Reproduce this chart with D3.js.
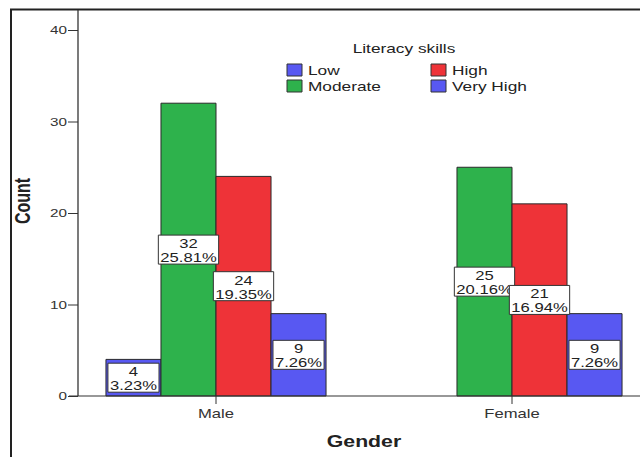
<!DOCTYPE html>
<html><head><meta charset="utf-8">
<script src="https://cdn.jsdelivr.net/npm/d3@7"></script>
<style>
html,body{margin:0;padding:0;background:#fff;overflow:hidden}
svg{display:block}
svg line, svg path, svg rect{vector-effect:non-scaling-stroke}
</style>
</head><body>
<script>
// ---- data ----
const genders = ["Male", "Female"];
const levels = ["Low", "Moderate", "High", "Very High"];
const maleCounts = [4, 32, 24, 9];
const femaleCounts = [null, 25, 21, 9];
const malePercents = ["3.23%", "25.81%", "19.35%", "7.26%"];
const femalePercents = [null, "20.16%", "16.94%", "7.26%"];
const yTicks = [0, 10, 20, 30, 40];
const legendTitle = "Literacy skills";
const xTitle = "Gender";
const yTitle = "Count";

// ---- style ----
const levelColors = ["#5858f2", "#2eb24c", "#ee3338", "#5858f2"];
const W = 640, H = 457, S = 1.33, IW = W / S;
const font = "'Liberation Sans', Arial, Helvetica, sans-serif";

const svg = d3.select("body").append("svg")
  .attr("width", W).attr("height", H)
  .attr("viewBox", `0 0 ${IW} ${H}`)
  .attr("preserveAspectRatio", "none")
  .style("font-family", font);

svg.append("rect").attr("width", IW).attr("height", H).attr("fill", "#fff");

// outer frame (top + left visible)
svg.append("path")
  .attr("d", `M${11 / S},${H + 5} V9.5 H${IW + 5}`)
  .attr("fill", "none").attr("stroke", "#222").attr("stroke-width", 2);

// scales
const y = d3.scaleLinear().domain([0, 40]).range([396, 30]);
const x0 = d3.scaleBand().domain(genders).range([68 / S, 660 / S]);
const x1 = d3.scaleBand().domain(levels).range([0, x0.bandwidth()]).paddingInner(0).paddingOuter(0.69);

const data = [];
genders.forEach((g, gi) => {
  const counts = gi === 0 ? maleCounts : femaleCounts;
  const pcts = gi === 0 ? malePercents : femalePercents;
  levels.forEach((l, li) => {
    if (counts[li] != null) data.push({ g, l, li, v: counts[li], p: pcts[li] });
  });
});

// bars
svg.append("g").selectAll("rect").data(data).join("rect")
  .attr("x", d => x0(d.g) + x1(d.l))
  .attr("y", d => y(d.v))
  .attr("width", x1.bandwidth())
  .attr("height", d => y(0) - y(d.v))
  .attr("fill", d => levelColors[d.li])
  .attr("stroke", "#2a2a2a").attr("stroke-width", 1);

// y axis
const yAxisX = 78 / S;
const yAxis = svg.append("g").attr("transform", `translate(${yAxisX},0)`)
  .call(d3.axisLeft(y).tickValues(yTicks).tickSizeInner(10 / S).tickSizeOuter(0).tickPadding(0.8));
yAxis.select(".domain").remove();
yAxis.selectAll(".tick line").attr("stroke", "#333");
yAxis.selectAll(".tick text").attr("font-size", 11.5).attr("fill", "#333").attr("font-family", font);
svg.append("line").attr("x1", yAxisX).attr("x2", yAxisX).attr("y1", 10).attr("y2", y(0))
  .attr("stroke", "#333").attr("stroke-width", 1.3);

// x axis baseline
svg.append("line").attr("x1", 69 / S).attr("x2", IW + 5).attr("y1", y(0)).attr("y2", y(0))
  .attr("stroke", "#333").attr("stroke-width", 1.2);
const xAxis = svg.append("g").attr("transform", `translate(0,${y(0)})`)
  .call(d3.axisBottom(x0).tickSizeInner(8).tickSizeOuter(0).tickPadding(5.5));
xAxis.select(".domain").remove();
xAxis.selectAll(".tick line").attr("stroke", "#333");
xAxis.selectAll(".tick text").attr("font-size", 12.5).attr("fill", "#333").attr("font-family", font);

// value labels
const lab = svg.append("g").selectAll("g").data(data).join("g")
  .attr("transform", d => `translate(${x0(d.g) + x1(d.l) + x1.bandwidth() / 2},${y(d.v / 2)})`);
lab.each(function (d) {
  const gEl = d3.select(this);
  const rect = gEl.append("rect");
  const t1 = gEl.append("text").attr("text-anchor", "middle").attr("y", -1.5)
    .attr("font-size", 12.5).attr("fill", "#222").text(d.v);
  const t2 = gEl.append("text").attr("text-anchor", "middle").attr("y", 12.5)
    .attr("font-size", 12.5).attr("fill", "#222").text(d.p);
  const w = Math.max(t1.node().getComputedTextLength(), t2.node().getComputedTextLength()) + 3;
  rect.attr("x", -w / 2).attr("y", -14.5).attr("width", w).attr("height", 29)
    .attr("fill", "#fff").attr("stroke", "#333").attr("stroke-width", 1);
});

// axis titles
svg.append("text").attr("x", (x0.range()[0] + x0.range()[1]) / 2).attr("y", 447)
  .attr("text-anchor", "middle").attr("font-size", 16).attr("font-weight", "bold")
  .attr("fill", "#222").text(xTitle);
svg.append("text").attr("transform", `translate(${30 / S},201) rotate(-90)`)
  .attr("text-anchor", "middle").attr("font-size", 16).attr("font-weight", "bold")
  .attr("fill", "#222").text(yTitle);

// legend
const leg = svg.append("g");
leg.append("text").attr("x", 404 / S).attr("y", 53).attr("text-anchor", "middle")
  .attr("font-size", 13).attr("fill", "#222").text(legendTitle);
const colX = [287 / S, 431 / S];
levels.forEach((l, i) => {
  const col = i < 2 ? 0 : 1;
  const row = i % 2;
  const gx = colX[col], gy = 64 + row * 16;
  leg.append("rect").attr("x", gx).attr("y", gy).attr("width", 15 / S).attr("height", 12)
    .attr("fill", levelColors[i]).attr("stroke", "#333").attr("stroke-width", 1);
  leg.append("text").attr("x", gx + 21 / S).attr("y", gy + 11.5)
    .attr("font-size", 13).attr("fill", "#222").text(l);
});
</script>
</body></html>
